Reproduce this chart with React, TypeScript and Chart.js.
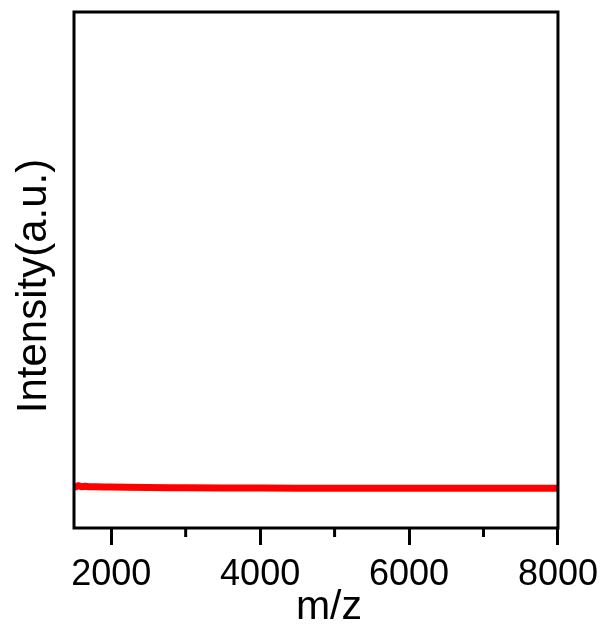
import React, { useEffect, useRef } from "react";
import { Chart, registerables } from "chart.js";

Chart.register(...registerables);

const mzValues = [1500, 1530, 1560, 1600, 1650, 1700, 1800, 1900, 2000, 2200, 2500, 2800, 3000, 3500, 4000, 4500, 5000, 5500, 6000, 6500, 7000, 7500, 8000];
const intensityValues = [8.2, 8.0, 8.2, 8.0, 8.1, 8.0, 8.0, 7.95, 7.95, 7.9, 7.85, 7.8, 7.8, 7.75, 7.75, 7.7, 7.7, 7.7, 7.7, 7.7, 7.7, 7.7, 7.7];
const tickValues = [2000, 3000, 4000, 5000, 6000, 7000, 8000];
const majorTicks = [2000, 4000, 6000, 8000];
const minorTicks = [3000, 5000, 7000];
const xTitle = "m/z";
const yTitle = "Intensity(a.u.)";

const FONT = "'Liberation Sans', Arial, sans-serif";

export default function App() {
  const canvasRef = useRef<HTMLCanvasElement | null>(null);

  useEffect(() => {
    if (!canvasRef.current) return;
    const framePlugin = {
      id: "frame",
      afterDraw(chart: any) {
        const { ctx, chartArea } = chart;
        const xs = chart.scales.x;
        ctx.save();
        ctx.strokeStyle = "#000";
        ctx.lineWidth = 3;
        ctx.beginPath();
        for (const v of minorTicks) {
          const px = xs.getPixelForValue(v);
          ctx.moveTo(px, chartArea.bottom);
          ctx.lineTo(px, chartArea.bottom + 9);
        }
        ctx.stroke();
        ctx.strokeRect(chartArea.left, chartArea.top, chartArea.right - chartArea.left, chartArea.bottom - chartArea.top);

        ctx.fillStyle = "#000";
        ctx.textAlign = "center";
        ctx.textBaseline = "alphabetic";
        ctx.font = `41px ${FONT}`;
        ctx.fillText(xTitle, (chartArea.left + chartArea.right) / 2 + 13, 619);
        ctx.translate(46, 286);
        ctx.rotate(-Math.PI / 2);
        ctx.font = `42px ${FONT}`;
        ctx.fillText(yTitle, 0, 0);
        ctx.restore();
      },
    };

    const chart = new Chart(canvasRef.current, {
      type: "line",
      data: {
        datasets: [
          {
            data: mzValues.map((x, i) => ({ x, y: intensityValues[i] })),
            borderColor: "#ff0000",
            borderWidth: 7,
            pointRadius: 0,
            tension: 0,
          },
        ],
      },
      options: {
        animation: false,
        responsive: true,
        maintainAspectRatio: false,
        layout: { padding: { top: 12, right: 48, left: 0, bottom: 0 } },
        plugins: { legend: { display: false }, tooltip: { enabled: false } },
        scales: {
          x: {
            type: "linear",
            min: 1500,
            max: 8000,
            border: { display: false },
            afterBuildTicks: (scale: any) => {
              scale.ticks = tickValues.map((v) => ({ value: v }));
            },
            grid: {
              display: true,
              drawOnChartArea: false,
              drawTicks: true,
              tickLength: 17,
              tickWidth: 3,
              tickColor: (ctx: any) => (ctx.tick && majorTicks.includes(ctx.tick.value) ? "#000" : "rgba(0,0,0,0)"),
            },
            ticks: {
              autoSkip: false,
              maxRotation: 0,
              minRotation: 0,
              padding: 8,
              color: "#000",
              font: { family: FONT, size: 36 },
              callback: (v: any) => (majorTicks.includes(Number(v)) ? String(v) : ""),
            },
            title: { display: false, text: xTitle },
            afterFit: (scale: any) => {
              scale.height = 102;
            },
          },
          y: {
            min: 0,
            max: 100,
            border: { display: false },
            grid: { display: false },
            ticks: { display: false },
            title: { display: false, text: yTitle },
            afterFit: (scale: any) => {
              scale.width = 74;
            },
          },
        },
      },
      plugins: [framePlugin],
    });
    return () => chart.destroy();
  }, []);

  return (
    <div style={{ position: "absolute", left: 0, top: 0, width: 606, height: 630, background: "#fff" }}>
      <canvas ref={canvasRef} />
    </div>
  );
}
